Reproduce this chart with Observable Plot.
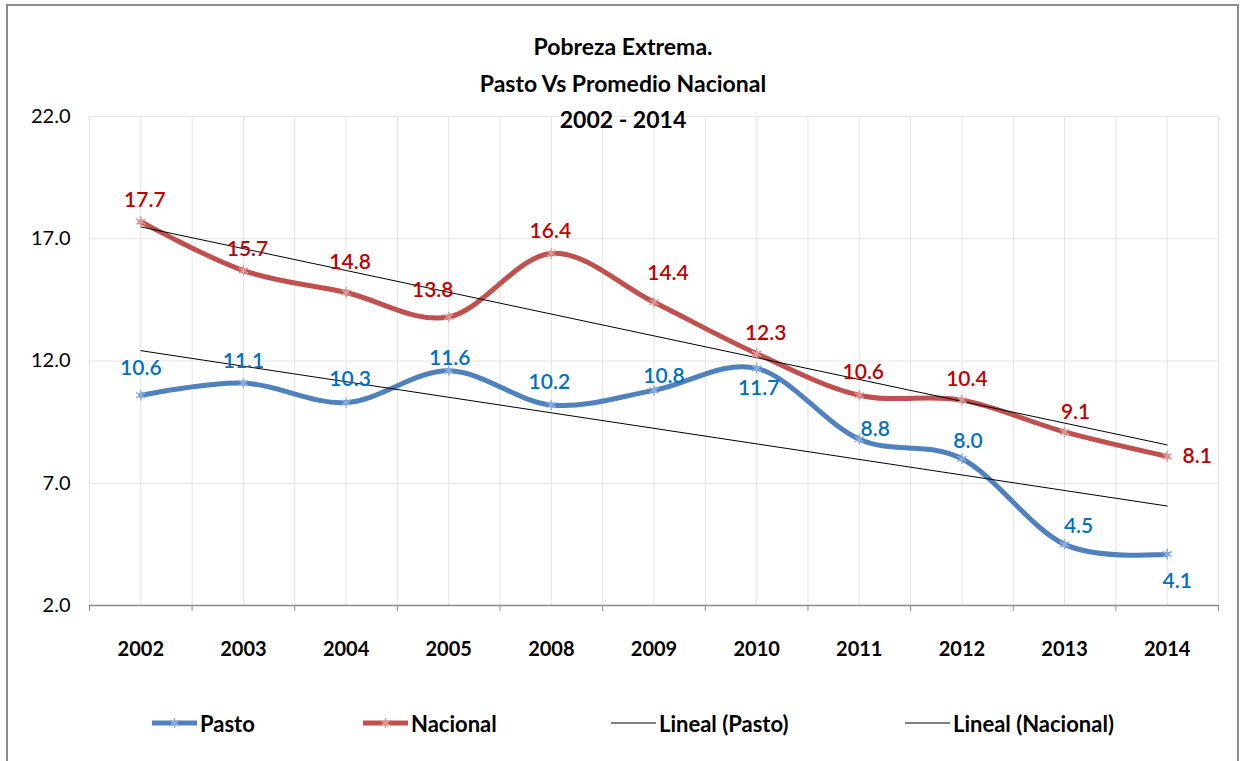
<!DOCTYPE html>
<html>
<head>
<meta charset="utf-8">
<script src="https://cdn.jsdelivr.net/npm/d3@7"></script>
<script src="https://cdn.jsdelivr.net/npm/@observablehq/plot@0.6"></script>
<style>
  html, body { margin: 0; padding: 0; background: #fff; overflow: hidden; }
  #wrap { position: relative; width: 1243px; height: 761px; font-family: Lato, "Open Sans", sans-serif; }
  #frame { position: absolute; left: 6px; top: 4px; width: 1233px; height: 780px; border: 2px solid #8c8c8c; box-sizing: border-box; pointer-events: none; }
  #chart { position: absolute; left: 0; top: 0; }
  #title { position: absolute; left: 0; width: 1246px; top: 28px; text-align: center; font-weight: bold; font-size: 23px; line-height: 36.5px; color: #000; }
  .leg { position: absolute; top: 708px; display: flex; align-items: center; font-size: 22px; font-weight: bold; color: #000; height: 30px; }
  .leg svg { margin-right: 3px; }
</style>
</head>
<body>
<div id="wrap">
  <div id="chart"></div>
  <div id="title">Pobreza Extrema.<br>Pasto Vs Promedio Nacional<br>2002 - 2014</div>
  <div id="legend"></div>
  <div id="frame"></div>
</div>
<script>
// ---- data ----
const years = ["2002", "2003", "2004", "2005", "2008", "2009", "2010", "2011", "2012", "2013", "2014"];
const pasto = [10.6, 11.1, 10.3, 11.6, 10.2, 10.8, 11.7, 8.8, 8.0, 4.5, 4.1];
const nacional = [17.7, 15.7, 14.8, 13.8, 16.4, 14.4, 12.3, 10.6, 10.4, 9.1, 8.1];
const yTicks = [2, 7, 12, 17, 22];
const seriesNames = ["Pasto", "Nacional", "Lineal (Pasto)", "Lineal (Nacional)"];

// ---- layout: label offsets (dx, dy) in px ----
const pastoLabelOffsets = [[0,-27],[0,-22],[4,-23],[1,-13],[-2,-23],[10,-14],[2,20],[16,-10],[6,-18],[14,-18],[10,27]];
const nacionalLabelOffsets = [[4,-21],[4,-21],[4,-30],[-16,-27],[-1,-22],[14,-29],[9,-20],[4,-23],[5,-21],[11,-20],[30,0]];

const colors = {
  pastoLine: "#4F81BD", pastoMark: "#8eaee0", pastoText: "#0070C0",
  nacLine: "#C0504D", nacMark: "#e09a97", nacText: "#C00000"
};

const idx = years.map((_, i) => i + 1);
const pastoData = idx.map((x, i) => ({x, y: pasto[i], label: pasto[i].toFixed(1), off: pastoLabelOffsets[i]}));
const nacData = idx.map((x, i) => ({x, y: nacional[i], label: nacional[i].toFixed(1), off: nacionalLabelOffsets[i]}));

const labelMarks = (data, fill) => data.map(d => Plot.text([d], {
  x: "x", y: "y", text: "label", dx: d.off[0], dy: d.off[1],
  fill, fontSize: 21, fontWeight: 600, fontFamily: "Lato, sans-serif"
}));

const edges = d3.range(0.5, years.length + 1, 1);
const halves = d3.range(0.5, years.length + 0.75, 0.5);

const chart = Plot.plot({
  width: 1243,
  height: 761,
  marginLeft: 89,
  marginRight: 25,
  marginTop: 116,
  marginBottom: 156,
  style: { fontFamily: "Lato, sans-serif", background: "transparent", overflow: "visible" },
  x: { type: "linear", domain: [0.5, years.length + 0.5] },
  y: { domain: [2, 22] },
  marks: [
    Plot.ruleX(halves, { stroke: "#e4e4e4", strokeWidth: 1 }),
    Plot.ruleY(yTicks.slice(1), { stroke: "#e4e4e4", strokeWidth: 1 }),
    Plot.axisY({ ticks: yTicks, tickFormat: d => d.toFixed(1), tickSize: 0, tickPadding: 19, fontSize: 20, fill: "#000", label: null }),
    Plot.axisX({ ticks: edges, tickFormat: () => "", tickSize: 6, stroke: "#8c8c8c", label: null }),
    Plot.axisX({ ticks: idx, tickFormat: i => years[i - 1], tickSize: 0, tickPadding: 36, fontSize: 20, fontWeight: "bold", fill: "#000", label: null }),
    Plot.ruleY([2], { stroke: "#8c8c8c", strokeWidth: 1.5 }),
    Plot.line(pastoData, { x: "x", y: "y", stroke: colors.pastoLine, strokeWidth: 5, curve: "cardinal", tension: 0 }),
    Plot.line(nacData, { x: "x", y: "y", stroke: colors.nacLine, strokeWidth: 5, curve: "cardinal", tension: 0 }),
    Plot.linearRegressionY(pastoData, { x: "x", y: "y", stroke: "#000", strokeWidth: 1, ci: 0 }),
    Plot.linearRegressionY(nacData, { x: "x", y: "y", stroke: "#000", strokeWidth: 1, ci: 0 }),
    Plot.dot(pastoData, { x: "x", y: "y", symbol: "asterisk", r: 5, stroke: colors.pastoMark, strokeWidth: 1.5 }),
    Plot.dot(nacData, { x: "x", y: "y", symbol: "asterisk", r: 5, stroke: colors.nacMark, strokeWidth: 1.5 }),
    ...labelMarks(pastoData, colors.pastoText),
    ...labelMarks(nacData, colors.nacText)
  ]
});
document.getElementById("chart").appendChild(chart);

// ---- legend ----
const legendItems = [
  { name: seriesNames[0], left: 152, stroke: colors.pastoLine, width: 5, mark: colors.pastoMark },
  { name: seriesNames[1], left: 363, stroke: colors.nacLine, width: 5, mark: colors.nacMark },
  { name: seriesNames[2], left: 611, stroke: "#000", width: 1, mark: null },
  { name: seriesNames[3], left: 905, stroke: "#000", width: 1, mark: null }
];
const legend = document.getElementById("legend");
for (const it of legendItems) {
  const div = document.createElement("div");
  div.className = "leg";
  div.style.left = it.left + "px";
  const s = d3.create("svg").attr("width", 45).attr("height", 20);
  s.append("line").attr("x1", 0).attr("x2", 45).attr("y1", 10).attr("y2", 10)
    .attr("stroke", it.stroke).attr("stroke-width", it.width);
  if (it.mark) {
    const g = s.append("g").attr("transform", "translate(22.5,10)").attr("stroke", it.mark).attr("stroke-width", 1.5);
    g.append("line").attr("x1", 0).attr("x2", 0).attr("y1", -5).attr("y2", 5);
    g.append("line").attr("x1", -4.3).attr("x2", 4.3).attr("y1", -2.5).attr("y2", 2.5);
    g.append("line").attr("x1", -4.3).attr("x2", 4.3).attr("y1", 2.5).attr("y2", -2.5);
  }
  div.appendChild(s.node());
  const t = document.createElement("span");
  t.textContent = it.name;
  div.appendChild(t);
  legend.appendChild(div);
}
</script>
</body>
</html>
